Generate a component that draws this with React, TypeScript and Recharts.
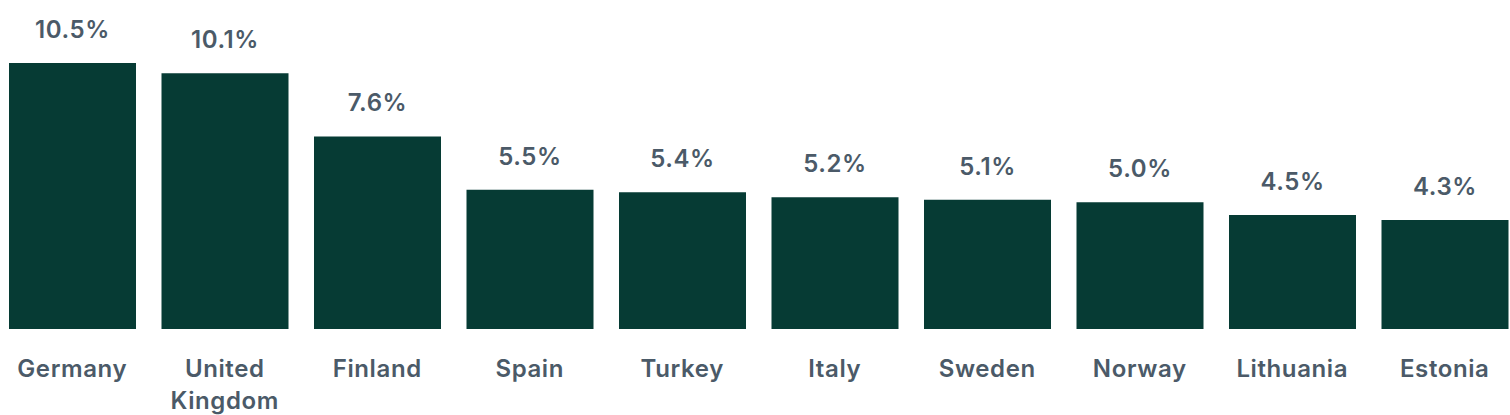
import { BarChart, Bar, XAxis, YAxis, LabelList } from 'recharts';

const countries = ['Germany', 'United Kingdom', 'Finland', 'Spain', 'Turkey', 'Italy', 'Sweden', 'Norway', 'Lithuania', 'Estonia'];
const shares = [10.5, 10.1, 7.6, 5.5, 5.4, 5.2, 5.1, 5.0, 4.5, 4.3];

const data = countries.map((country, i) => ({ country, share: shares[i] }));

const BAR_COLOR = '#063b34';
const TEXT_COLOR = '#4b5a68';
const FONT = 'Inter, "Noto Sans", sans-serif';

function CountryTick({ x, y, payload }: any) {
  const words = String(payload.value).split(' ');
  return (
    <text x={x} y={y + 48} textAnchor="middle" fill={TEXT_COLOR} fontSize={24} fontWeight={600} letterSpacing={0.6} fontFamily={FONT}>
      {words.map((w, i) => (
        <tspan key={w} x={x} dy={i === 0 ? 0 : 32}>{w}</tspan>
      ))}
    </text>
  );
}

export default function App() {
  return (
    <div style={{ position: 'absolute', left: -4, top: 0, width: 1525, height: 415, background: '#fff' }}>
      <BarChart width={1525} height={415} data={data} margin={{ top: 63, right: 0, left: 0, bottom: 0 }} barCategoryGap={13}>
        <XAxis
          dataKey="country"
          axisLine={false}
          tickLine={false}
          tickSize={0}
          tickMargin={0}
          height={86}
          interval={0}
          tick={<CountryTick />}
        />
        <YAxis hide domain={[0, 10.5]} />
        <Bar dataKey="share" fill={BAR_COLOR} barSize={127} isAnimationActive={false}>
          <LabelList
            dataKey="share"
            position="top"
            offset={25}
            formatter={(v: number) => `${v.toFixed(1)}%`}
            fill={TEXT_COLOR}
            fontSize={24}
            fontWeight={600}
            letterSpacing={0.6}
            fontFamily={FONT}
          />
        </Bar>
      </BarChart>
    </div>
  );
}
